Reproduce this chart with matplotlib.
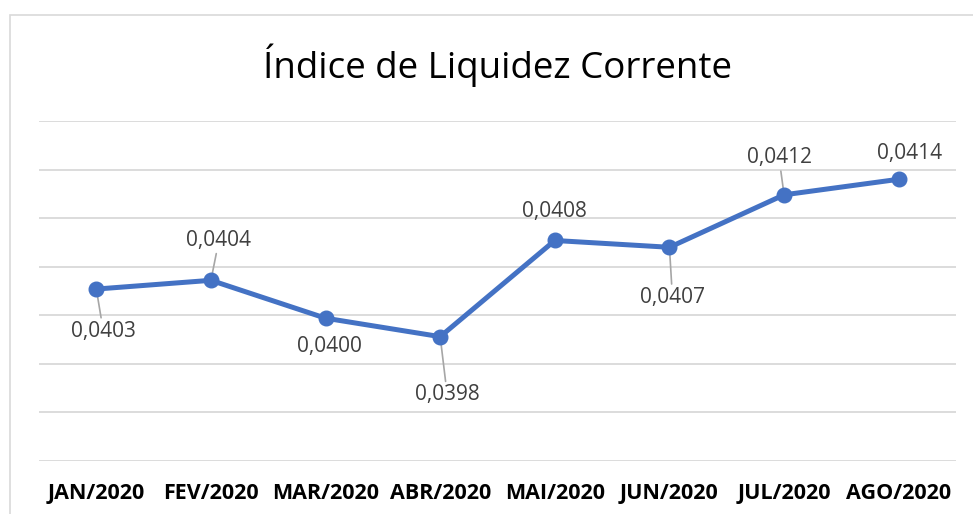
import matplotlib
matplotlib.use("Agg")
import matplotlib.pyplot as plt
from matplotlib.patches import Rectangle

# data
meses = ["JAN/2020", "FEV/2020", "MAR/2020", "ABR/2020",
         "MAI/2020", "JUN/2020", "JUL/2020", "AGO/2020"]
indice = [0.04027, 0.04036, 0.03997, 0.03978, 0.04077, 0.04070, 0.04124, 0.04140]

# label offsets in pixels (dx, dy) and whether a leader line is drawn
offsets = [(7, -42), (8, 40), (4, -28), (7, -58), (0, 29), (3, -50), (-5, 37), (11, 26)]
leader = [True, True, False, True, False, True, True, False]

plt.rcParams['font.family'] = ['Open Sans', 'DejaVu Sans']

fig = plt.figure(figsize=(9.73, 5.14), dpi=100)
fig.patches.append(Rectangle((10 / 973, -0.1), 1.0, 1 - 15 / 514 + 0.1,
                             transform=fig.transFigure, fill=False,
                             edgecolor='#D9D9D9', linewidth=1.2))

ax = fig.add_axes([39 / 973, 1 - 461 / 514, (956 - 39) / 973, (461 - 121) / 514])
x = list(range(len(meses)))
ax.plot(x, indice, color='#4472C4', linewidth=3.6, marker='o', markersize=10.5,
        solid_capstyle='round', zorder=3)

ax.set_xlim(-0.5, len(meses) - 0.5)
ax.set_ylim(0.0385, 0.042)
ax.set_yticks([0.0385 + 0.0005 * i for i in range(8)])
ax.yaxis.grid(True, color='#D9D9D9', linewidth=1.3)
ax.set_yticklabels([])
ax.tick_params(axis='y', length=0)
ax.tick_params(axis='x', length=0, pad=16)
ax.set_xticks(x)
ax.set_xticklabels(meses, fontsize=15.5, fontweight='bold', color='black')
for s in ax.spines.values():
    s.set_visible(False)

for i, v in enumerate(indice):
    txt = f"{v:.4f}".replace('.', ',')
    dx, dy = offsets[i]
    arrow = dict(arrowstyle='-', color='#A6A6A6', linewidth=1.2,
                 shrinkA=0, shrinkB=0) if leader[i] else None
    ax.annotate(txt, (i, v), xytext=(dx, dy), textcoords='offset pixels',
                ha='center', va='center', fontsize=15, color='#404040',
                arrowprops=arrow, zorder=2)

fig.text(497 / 973, 1 - 65 / 514, "Índice de Liquidez Corrente",
         ha='center', va='center', fontsize=26.5, color='black')

fig.savefig("out.png", dpi=100)
